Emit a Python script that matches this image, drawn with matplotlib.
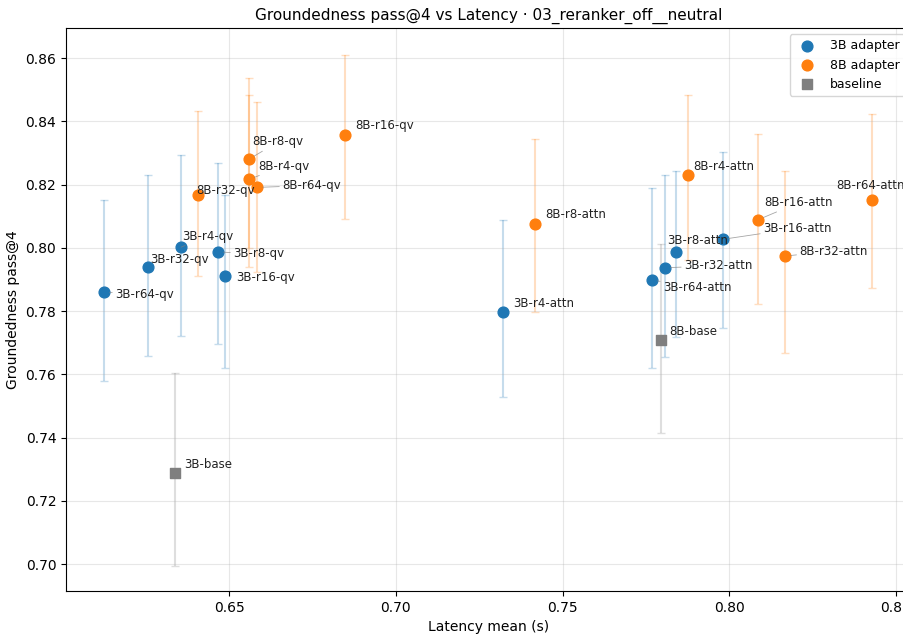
import matplotlib
matplotlib.use("Agg")
import matplotlib.pyplot as plt

# 3B adapters
names_3b = ["3B-r64-qv", "3B-r32-qv", "3B-r4-qv", "3B-r8-qv", "3B-r16-qv",
            "3B-r4-attn", "3B-r64-attn", "3B-r32-attn", "3B-r8-attn", "3B-r16-attn"]
lat_3b = [0.6125, 0.6257, 0.6356, 0.6467, 0.6488, 0.7322, 0.7768, 0.7807, 0.7841, 0.7981]
score_3b = [0.7860, 0.7939, 0.8002, 0.7987, 0.7911, 0.7797, 0.7898, 0.7937, 0.7988, 0.8027]
lo_3b = [0.7579, 0.7658, 0.7721, 0.7696, 0.7620, 0.7528, 0.7620, 0.7656, 0.7719, 0.7745]
hi_3b = [0.8151, 0.8230, 0.8293, 0.8268, 0.8167, 0.8088, 0.8190, 0.8230, 0.8243, 0.8304]

# 8B adapters
names_8b = ["8B-r32-qv", "8B-r8-qv", "8B-r4-qv", "8B-r64-qv", "8B-r16-qv",
            "8B-r8-attn", "8B-r4-attn", "8B-r16-attn", "8B-r32-attn", "8B-r64-attn"]
lat_8b = [0.6407, 0.6561, 0.6561, 0.6584, 0.6847, 0.7418, 0.7875, 0.8087, 0.8168, 0.8427]
score_8b = [0.8167, 0.8281, 0.8217, 0.8191, 0.8358, 0.8076, 0.8230, 0.8089, 0.7974, 0.8152]
lo_8b = [0.7911, 0.8001, 0.7938, 0.7924, 0.8091, 0.7796, 0.7961, 0.7822, 0.7669, 0.7874]
hi_8b = [0.8432, 0.8536, 0.8483, 0.8460, 0.8610, 0.8344, 0.8483, 0.8360, 0.8243, 0.8423]

# baselines
names_base = ["3B-base", "8B-base"]
lat_base = [0.6338, 0.7794]
score_base = [0.7288, 0.7707]
lo_base = [0.6994, 0.7414]
hi_base = [0.7604, 0.8012]

# label offsets in pixels (dx right, dy down) and whether a leader line is drawn
label_pos = {
    "3B-r64-qv": (11, 2, True), "3B-r32-qv": (2, -8, False), "3B-r4-qv": (1, -11, True),
    "3B-r8-qv": (15, 2, True), "3B-r16-qv": (11, 2, False), "3B-r4-attn": (10, -9, False),
    "3B-r64-attn": (11, 7, True), "3B-r32-attn": (19, -2, True), "3B-r8-attn": (-9, -11, False),
    "3B-r16-attn": (40, -11, True),
    "8B-r32-qv": (-2, -5, False), "8B-r8-qv": (3, -17, True), "8B-r4-qv": (9, -13, True),
    "8B-r64-qv": (25, -2, True), "8B-r16-qv": (10, -9, False), "8B-r8-attn": (10, -9, False),
    "8B-r4-attn": (6, -9, False), "8B-r16-attn": (6, -17, True), "8B-r32-attn": (14, -5, True),
    "8B-r64-attn": (-35, -14, False),
    "3B-base": (9, -9, False), "8B-base": (9, -9, False),
}

fig = plt.figure(figsize=(9.04, 6.35), dpi=100)
ax = fig.add_axes([66 / 904, 44 / 635, 845 / 904, 563 / 635])

groups = [
    (names_3b, lat_3b, score_3b, lo_3b, hi_3b, "#1f77b4", "o", "3B adapter"),
    (names_8b, lat_8b, score_8b, lo_8b, hi_8b, "#ff7f0e", "o", "8B adapter"),
    (names_base, lat_base, score_base, lo_base, hi_base, "#7f7f7f", "s", "baseline"),
]

for names, xs, ys, lo, hi, color, marker, label in groups:
    yerr = [[y - l for y, l in zip(ys, lo)], [h - y for y, h in zip(ys, hi)]]
    ax.errorbar(xs, ys, yerr=yerr, fmt="none", ecolor=color, alpha=0.25,
                elinewidth=1.5, capsize=3, zorder=1)
    ax.scatter(xs, ys, s=60, color=color, marker=marker, label=label, zorder=3)
    for n, x, y in zip(names, xs, ys):
        dx, dy, line = label_pos[n]
        arrow = dict(arrowstyle="-", color="gray", lw=0.6, alpha=0.7,
                     shrinkA=0, shrinkB=4) if line else None
        ax.annotate(n, (x, y), xytext=(dx * 0.72, -dy * 0.72), textcoords="offset points",
                    ha="left", va="center", fontsize=8.5, color="#222222",
                    arrowprops=arrow, zorder=4)

ax.set_xlim(0.6011, 0.8545)
ax.set_ylim(0.6915, 0.8695)
ax.grid(True, alpha=0.3)
ax.set_xlabel("Latency mean (s)")
ax.set_ylabel("Groundedness pass@4")
ax.set_title("Groundedness pass@4 vs Latency · 03_reranker_off__neutral", fontsize=11)
ax.legend(loc="upper right", fontsize=9)

fig.savefig("out.png", dpi=100)
